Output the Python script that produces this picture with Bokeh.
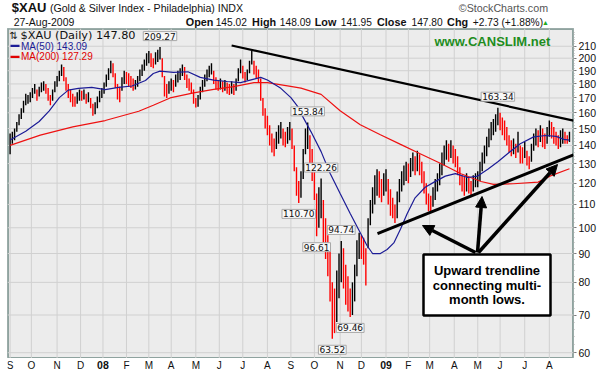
from bokeh.plotting import figure
from bokeh.layouts import column
from bokeh.models import (Range1d, FixedTicker, Label, Arrow, NormalHead, BoxAnnotation,
                          ColumnDataSource, PrintfTickFormatter)
from bokeh.core.properties import value
from bokeh.embed import file_html
from bokeh.resources import INLINE

# ---------------- data ----------------
# x = trading-day index counted from 4-Sep-2007; one bar per two trading days
bar_hi = (
    [147, 148, 150, 154, 159, 163, 168, 173, 172, 174] +                      # Sep 07
    [177, 180, 176, 178, 181, 182, 180, 177, 172, 176, 182] +                 # Oct 07
    [186, 190, 195, 193, 185, 180, 176, 173, 171, 174, 176] +                 # Nov 07
    [175, 176, 173, 174, 170, 166, 167, 171, 175, 177] +                      # Dec 07
    [181, 187, 192, 198, 196, 188, 180, 178, 185, 190] +                      # Jan 08
    [189, 188, 186, 184, 183, 186, 191, 195, 199, 204] +                      # Feb 08
    [206, 204, 200, 205, 207, 209.27, 200, 186, 180, 182] +                   # Mar 08
    [184, 183, 187, 190, 192, 195, 193, 187, 184, 181, 176] +                 # Apr 08
    [170, 172, 178, 183, 187, 191, 194, 196, 190, 185, 183] +                 # May 08
    [184, 182, 183, 181, 180, 182, 180, 184, 192, 199] +                      # Jun 08
    [194, 189, 191, 198, 206, 198, 194, 191, 184, 170, 163] +                 # Jul 08
    [158, 152, 147, 144, 148, 152, 154, 150, 148, 151, 154] +                 # Aug 08
    [150, 140, 128, 121, 126, 138, 150, 153.84, 146, 138] +                   # Sep 08
    [130, 115, 118, 122.26, 112, 104, 97, 92, 80, 78, 84, 90] +               # Oct 08
    [94.74, 92, 86, 82, 78, 80, 86, 95, 98] +                                 # Nov 08
    [97, 96, 92, 104, 112, 118, 124, 127, 126, 122, 125] +                    # Dec 08
    [127, 122, 117, 113, 110, 116, 122, 126, 129, 131] +                      # Jan 09
    [130, 133, 136, 134, 137, 135, 131, 126, 120, 115] +                      # Feb 09
    [114, 118, 122, 125, 130, 136, 140, 143, 141, 143, 140] +                 # Mar 09
    [138, 134, 128, 124, 123, 125, 123, 121, 124, 125] +                      # Apr 09
    [126, 131, 136, 140, 145, 150, 154, 156, 159, 163.34] +                   # May 09
    [160, 157, 155, 151, 146, 143, 144, 141, 148, 140, 139] +                 # Jun 09
    [142, 137, 134, 141, 147, 150, 149, 152, 150, 147, 151] +                 # Jul 09
    [155, 154, 151, 148, 146, 149, 150, 148, 146, 148.09]                     # Aug 09
)
bar_lo = (
    [135, 141, 143, 148, 152, 156, 160, 165, 166, 167] +
    [170, 173, 168, 171, 174, 175, 173, 168, 165, 168, 174] +
    [178, 182, 186, 182, 175, 170, 167, 164, 164, 166, 168] +
    [168, 169, 166, 167, 163, 158, 159, 163, 167, 170] +
    [173, 178, 183, 188, 185, 177, 169, 167, 175, 180] +
    [180, 178, 177, 175, 176, 178, 182, 186, 190, 194] +
    [196, 193, 192, 195, 197, 199, 185, 171, 170, 173] +
    [175, 174, 178, 181, 183, 186, 183, 177, 175, 173, 166] +
    [163.5, 164, 169, 174, 178, 182, 185, 187, 180, 176, 175] +
    [176, 174, 175, 173, 172, 173, 172, 175, 182, 188] +
    [184, 181, 183, 188, 195, 187, 184, 181, 168, 158, 150] +
    [146, 140, 136, 134, 138, 141, 144, 140, 139, 141, 143] +
    [138, 126, 114, 110.70, 113, 122, 135, 138, 130, 121] +
    [112, 96.61, 100, 104, 94, 88, 82, 74, 63.52, 65, 68, 75] +
    [80, 78, 73, 71, 69.46, 70, 74, 82, 88] +
    [88, 86, 79, 92, 101, 106, 110, 114, 113, 111, 114] +
    [116, 110, 105, 104, 102, 104, 111, 116, 119, 121] +
    [120, 123, 126, 124, 126, 124, 120, 115, 110, 107] +
    [107, 109, 112, 116, 119, 124, 129, 132, 131, 133, 130] +
    [128, 124, 119, 116, 114, 116, 115, 114, 116, 118] +
    [118, 121, 126, 130, 134, 139, 143, 146, 148, 152] +
    [149, 146, 143, 140, 136, 134, 135, 133, 136, 130, 130] +
    [133, 129, 127, 131, 137, 140, 139, 142, 139, 138, 141] +
    [145, 144, 141, 140, 138, 139, 141, 141, 141, 141.95]
)
bar_idx = list(range(0, 501, 2))

ma50_idx = [0, 14, 26, 35, 44, 52, 61, 73, 85, 97, 109, 121, 128, 134, 146, 159, 170, 182, 194,
            206, 218, 224, 230, 242, 251, 257, 260, 269, 278, 286, 295, 304, 313, 319, 324, 331,
            337, 343, 349, 355, 362, 371, 379, 389, 398, 409, 418, 427, 436, 446, 456, 468, 479,
            488, 495, 500]
ma50_val = [143.1, 148.3, 154.4, 161.3, 170.2, 175.5, 176.8, 177.5, 175.9, 177.5, 178.5, 182.6,
            187.9, 189.7, 188.7, 189.2, 184.9, 182.9, 181.8, 181.0, 183.6, 184.9, 182.9, 176.8,
            170.2, 164.3, 159.6, 148, 136.5, 125, 115, 106, 98, 93, 90, 90, 91.5, 94, 99.5, 106,
            113, 118, 120.5, 123.5, 124.8, 122.8, 123.5, 127, 131, 136, 141, 145, 145.8, 145.3,
            143.5, 143.09]
ma200_idx = [0, 27, 56, 85, 115, 128, 143, 164, 182, 200, 218, 230, 248, 260, 278, 295, 313, 331,
             349, 367, 385, 403, 421, 432, 450, 472, 483, 500]
ma200_val = [140, 146, 151, 155, 161, 165, 170, 173.5, 176, 178, 181, 181, 178.6, 177, 172.5,
             161.3, 152.4, 146.3, 140.6, 135.2, 130, 124.7, 120.8, 119.4, 119.7, 120.5, 123.6,
             127.29]

month_idx = [0, 19, 42, 63, 83, 104, 124, 144, 166, 187, 208, 230, 251, 272, 295, 314, 336, 356,
             375, 397, 418, 438, 460, 482]
month_lab = ["S", "O", "N", "D", "08", "F", "M", "A", "M", "J", "J", "A", "S", "O", "N", "D",
             "09", "F", "M", "A", "M", "J", "J", "A"]
ytick_vals = [60, 70, 80, 90, 100, 110, 120, 130, 140, 150, 160, 170, 180, 190, 200, 210]

peak_idx = [134, 266, 278, 258, 274, 296, 304, 288, 436]
peak_val = [209.27, 153.84, 122.26, 110.70, 96.61, 94.74, 69.46, 63.52, 163.34]
peak_dir = [1, 1, 1, -1, -1, 1, -1, -1, 1]

upper_trend_idx, upper_trend_val = [198, 503.6], [210.6, 154.9]
lower_trend_idx, lower_trend_val = [328.4, 503.6], [97.6, 134.7]

assert len(bar_hi) == len(bar_lo) == len(bar_idx)

FONT = "Liberation Sans"
W = 600
FL, FR, FT, FB = 7, 573, 28, 358          # frame edges on the page
BG = "#ececec"

# ---------------- header ----------------
hdr = figure(width=W, height=FT, x_range=Range1d(0, W), y_range=Range1d(FT, 0),
             output_backend="svg", toolbar_location=None, x_axis_location=None,
             y_axis_location=None, min_border_left=0, min_border_right=0, min_border_top=0,
             min_border_bottom=0)
hdr.outline_line_color = None
hdr.grid.visible = False
hdr.background_fill_color = "white"
hdr.border_fill_color = "white"


def htext(t, x, y, size, style="normal", color="#111111", align="left", font=FONT):
    hdr.text(x=[x], y=[y], text=[t], text_font=value(font), text_font_size=size,
             text_font_style=style, text_color=color, text_align=align, text_baseline="middle")


htext("$XAU", 4.5, 7.2, "13px", "bold")
htext("(Gold & Silver Index - Philadelphia) INDX", 45, 7.6, "10.6px")
htext("\u00a9StockCharts.com", 573, 7.6, "10.7px", color="#555555", align="right")
htext("27-Aug-2009", 6.5, 21.8, "10.5px")
for t, x, b in [("Open", 189, True), ("145.02", 220.7, False), ("High", 259.3, True),
                ("148.09", 288.7, False), ("Low", 325.7, True), ("141.95", 353.3, False),
                ("Close", 391.7, True), ("147.80", 428.3, False), ("Chg", 466, True),
                ("+2.73 (+1.88%)", 493.3, False)]:
    htext(t, x, 21.6, "10.8px" if b else "10.2px", "bold" if b else "normal")
htext("\u25b2", 566.5, 22.3, "7px", color="#22aa22")

# ---------------- main chart ----------------
xr = Range1d(-2.32, 503.6)
yr = Range1d(58.6, 225.8)
p = figure(width=W, height=FB - FT, y_axis_type="log", y_axis_location="right",
           x_axis_location=None, x_range=xr, y_range=yr,
           output_backend="svg", toolbar_location=None,
           min_border_left=FL, min_border_right=W - FR, min_border_top=0, min_border_bottom=0)
p.background_fill_color = BG
p.border_fill_color = "white"
p.outline_line_color = "#8fa39f"
p.outline_line_width = 1
p.grid.visible = False

# plot-area fill, frame and grid (drawn first, under the bars)
p.quad(left=[xr.start], right=[xr.end], bottom=[yr.start], top=[yr.end],
       fill_color=BG, fill_alpha=1.0, line_color="#8fa39f", line_width=3)
n_m, n_y = len(month_idx), len(ytick_vals)
p.segment(x0=month_idx, x1=month_idx, y0=[yr.start] * n_m, y1=[yr.end] * n_m,
          line_color="#d0d0d0", line_width=1)
p.segment(x0=[xr.start] * n_y, x1=[xr.end] * n_y, y0=ytick_vals, y1=ytick_vals,
          line_color="#d0d0d0", line_width=1)

ya = p.yaxis[0]
ya.ticker = FixedTicker(ticks=ytick_vals, minor_ticks=list(range(60, 224, 2)))
ya.formatter = PrintfTickFormatter(format="%d")
ya.axis_line_color = None
ya.major_tick_line_color = "#777777"
ya.major_tick_out = 3
ya.major_tick_in = 0
ya.minor_tick_line_color = "#aaaaaa"
ya.minor_tick_out = 1
ya.minor_tick_in = 0
ya.major_label_standoff = 2
ya.major_label_text_font = FONT
ya.major_label_text_font_size = "10.5px"
ya.major_label_text_color = "#111111"

# bars (black = up, red = down)
mids = [(h + l) / 2 for h, l in zip(bar_hi, bar_lo)]
cols = ["black"] + ["black" if mids[i] >= mids[i - 1] else "red" for i in range(1, len(mids))]
src = ColumnDataSource(dict(x=bar_idx, hi=bar_hi, lo=bar_lo, c=cols))
p.segment(x0="x", y0="lo", x1="x", y1="hi", source=src, line_color="c", line_width=1.4)

p.line(ma200_idx, ma200_val, line_color="#ee1111", line_width=1.2)
p.line(ma50_idx, ma50_val, line_color="#1c1c96", line_width=1.2)

p.line(upper_trend_idx, upper_trend_val, line_color="black", line_width=2.2)
p.line(lower_trend_idx, lower_trend_val, line_color="black", line_width=3)

# peak / trough labels
for xi, v, d in zip(peak_idx, peak_val, peak_dir):
    p.add_layout(Label(x=xi, y=v, y_offset=11 * d, text=f"{v:.2f}", text_align="center",
                       text_baseline="middle", text_font="DejaVu Sans", text_font_size="9px",
                       text_color="#111111", background_fill_color="#f8f8f8",
                       border_line_color="#a8a8a8", border_line_width=1, padding=1))


def scr(text, px, py, size="10.7px", font=FONT, style="normal", color="#111111",
        align="left"):
    p.add_layout(Label(x=px - FL, y=FB - py, x_units="screen", y_units="screen", text=text,
                       text_align=align, text_baseline="middle", text_font=font,
                       text_font_size=size, text_font_style=style, text_color=color))


def sbox(l, r, t, b, **kw):
    p.add_layout(BoxAnnotation(left=l - FL, right=r - FL, top=FB - t, bottom=FB - b,
                               left_units="screen", right_units="screen", top_units="screen",
                               bottom_units="screen", **kw))


# legend inside the chart
scr("\u21c5", 9, 34.5, size="10px", font="DejaVu Sans")
scr("$XAU (Daily) 147.80", 20, 34.5, size="11.3px", font="DejaVu Sans")
scr("MA(50) 143.09", 20.5, 45.5, size="10px", color="#1c1c96")
scr("MA(200) 127.29", 20.5, 56.4, size="10px", color="#e00000")
sbox(10, 19, 44.2, 46.6, fill_color="#1c1c96", fill_alpha=1, line_color=None)
sbox(10, 19, 55.2, 57.6, fill_color="#e00000", fill_alpha=1, line_color=None)

scr("www.CANSLIM.net", 434, 41.2, size="13px", style="bold", color="#1e8c1e")

# arrows and text box
for (x0, y0, x1, y1) in [(475, 252, 422, 225), (477, 252, 481.5, 196), (478, 252, 557, 164)]:
    p.add_layout(Arrow(end=NormalHead(size=11, fill_color="black", line_color="black"),
                       x_start=x0 - FL, y_start=FB - y0, x_end=x1 - FL, y_end=FB - y1,
                       start_units="screen", end_units="screen",
                       line_color="black", line_width=3.5))
sbox(423, 550, 254, 315, fill_color="white", fill_alpha=1, line_color="black", line_width=2.5,
     line_alpha=1)
for t, y in [("Upward trendline", 270), ("connecting multi-", 284.5), ("month lows.", 299)]:
    scr(t, 486.5, y, size="13px", style="bold", color="black", align="center")

# ---------------- month labels ----------------
ftr = figure(width=W, height=14, x_range=xr, y_range=Range1d(14, 0),
             output_backend="svg", toolbar_location=None, x_axis_location=None,
             y_axis_location=None, min_border_left=FL, min_border_right=W - FR,
             min_border_top=0, min_border_bottom=0)
ftr.outline_line_color = None
ftr.grid.visible = False
ftr.background_fill_color = "white"
ftr.border_fill_color = "white"
reg = [(m, l) for m, l in zip(month_idx, month_lab) if not l.isdigit()]
yrs = [(m, l) for m, l in zip(month_idx, month_lab) if l.isdigit()]
ftr.text(x=[m for m, _ in reg], y=[6.5] * len(reg), text=[l for _, l in reg],
         text_font=value(FONT), text_font_size="10px", text_color="#111111",
         text_align="center", text_baseline="middle")
ftr.text(x=[m for m, _ in yrs], y=[6.5] * len(yrs), text=[l for _, l in yrs],
         text_font=value(FONT), text_font_size="10.5px", text_font_style="bold",
         text_color="#111111", text_align="center", text_baseline="middle")

layout = column(hdr, p, ftr, spacing=0)
open("out.html", "w").write(file_html(layout, INLINE))
